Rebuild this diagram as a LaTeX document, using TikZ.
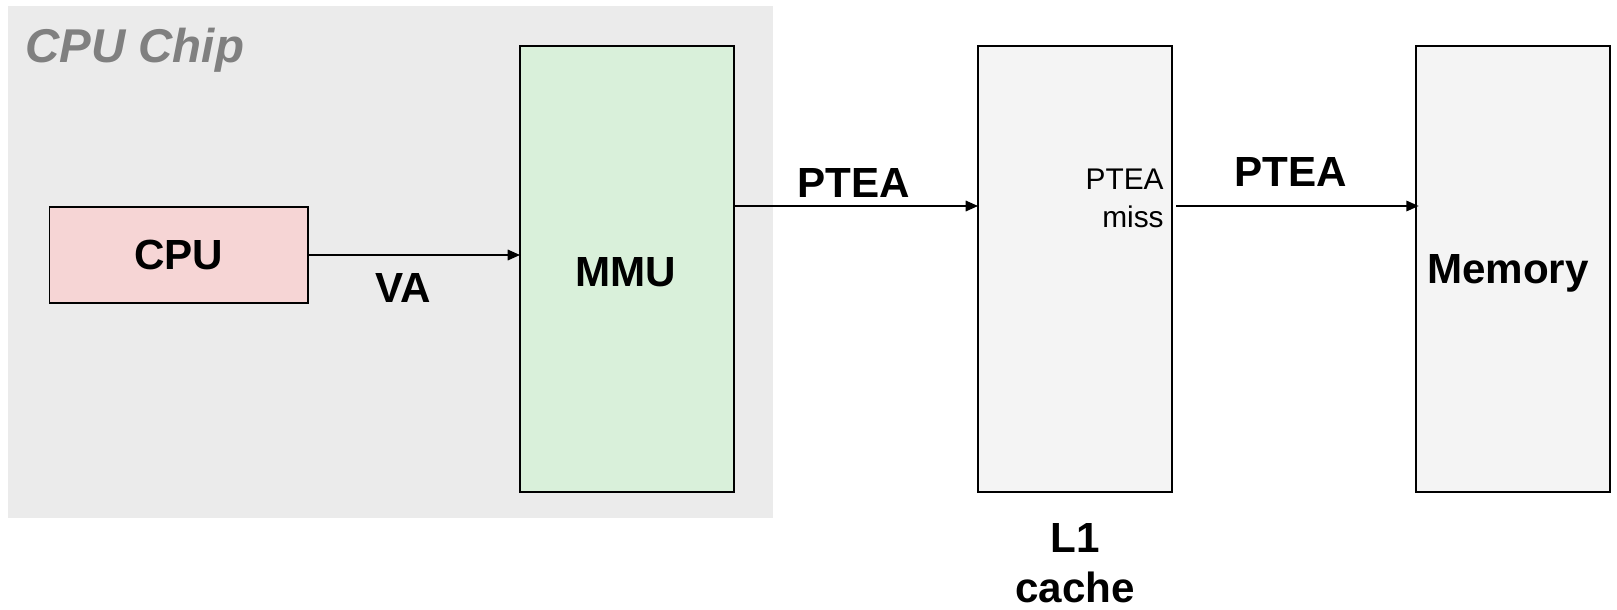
\documentclass[tikz,border=0pt]{standalone}
\usepackage{fontspec}
\setmainfont{Liberation Sans}
\usetikzlibrary{arrows.meta,positioning}
\definecolor{chipgray}{HTML}{EBEBEB}
\definecolor{cpupink}{HTML}{F6D5D5}
\definecolor{mmugreen}{HTML}{D9F0DA}
\definecolor{boxgray}{HTML}{F4F4F4}
\begin{document}
\begin{tikzpicture}[x=0.02cm,y=-0.02cm,
    unit/.style={draw=black,line width=1.1pt,inner sep=0pt,outer sep=0pt,
      font=\fontsize{24}{28}\selectfont\bfseries},
    bus/.style={line width=0.9pt,-{Triangle[length=7pt,width=6pt]}},
    buslabel/.style={inner sep=0pt,font=\fontsize{24}{28}\selectfont\bfseries}]
    \useasboundingbox (0,0) rectangle (1617,609);
    % chip area
    \fill[chipgray] (8,6) rectangle (773,518);
    \node[anchor=base west,inner sep=0pt,text=gray,
      font=\fontsize{27}{30}\selectfont\bfseries\itshape] (chip) at (25,62) {CPU Chip};
    % units
    \node[unit,fill=cpupink,minimum width=5.17cm,minimum height=1.92cm] (cpu) at (178.75,255) {CPU};
    \node[unit,fill=mmugreen,minimum width=4.28cm,minimum height=8.92cm] (mmu) at (627,269) {};
    \node[buslabel] (mmulabel) at (626,272) {MMU};
    \node[unit,fill=boxgray,minimum width=3.88cm,minimum height=8.92cm] (lone) at (1075,269) {};
    \node[unit,fill=boxgray,minimum width=3.88cm,minimum height=8.92cm] (mem) at (1513,269) {};
    \node[buslabel,anchor=base] (memlabel) at (1508,283) {Memory};
    \node[buslabel,align=center,font=\fontsize{24}{28.7}\selectfont\bfseries] (lonelabel) at (1075,563) {L1\\cache};
    \node[anchor=east,inner sep=0pt,align=right,font=\fontsize{17}{21.6}\selectfont] (miss) at (1164,198) {PTEA\\miss};
    % buses
    \coordinate (pteay) at (0,206);
    \draw[bus] (cpu.east) -- (cpu.east -| mmu.west);
    \node[buslabel] (va) at (403,288) {VA};
    \draw[bus] (mmu.east |- pteay) -- (lone.west |- pteay);
    \node[buslabel] (ptea) at (854,183) {PTEA};
    \draw[bus] ([xshift=2.5pt]lone.east |- pteay) -- ([xshift=1.5pt]mem.west |- pteay);
    \node[buslabel] (pteamem) at (1291,172) {PTEA};
\end{tikzpicture}
\end{document}
